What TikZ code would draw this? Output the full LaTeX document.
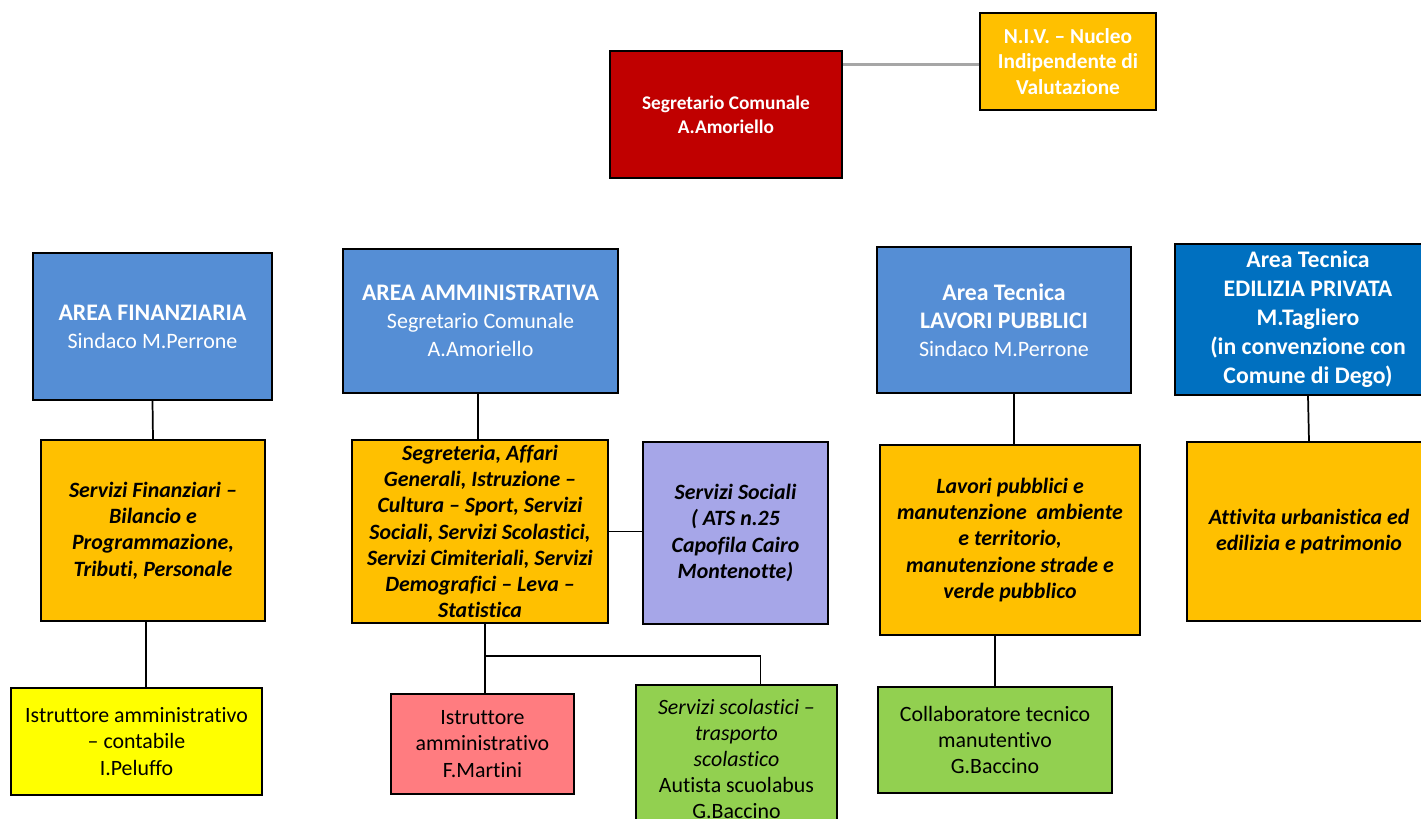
\documentclass[tikz,border=0pt]{standalone}
\usepackage{fontspec}
\setmainfont[Ligatures=CommonOff]{Carlito}
\definecolor{segrred}{HTML}{C00000}
\definecolor{areaorange}{HTML}{FFC000}
\definecolor{areablue}{HTML}{558ED5}
\definecolor{edilblue}{HTML}{0070C0}
\definecolor{socialililac}{HTML}{A6A6E8}
\definecolor{istryellow}{HTML}{FFFF00}
\definecolor{istrpink}{HTML}{FF7C80}
\definecolor{scolgreen}{HTML}{92D050}
\definecolor{nivgray}{HTML}{A6A6A6}
\newcommand{\areatitle}[1]{{\bfseries\fontsize{17.8}{21}\selectfont #1}}

\begin{document}
\begin{tikzpicture}[x=0.75pt,y=0.75pt,yscale=-1,xscale=1,
    box/.style={draw=black, line width=1.1pt, rectangle, align=center, inner sep=2pt},
    size/.style 2 args={minimum width=#1*0.75pt, minimum height=#2*0.75pt},
    head/.style={box, text=white, font=\fontsize{16.5}{21}\selectfont},
    duty/.style={box, fill=areaorange, font=\bfseries\itshape\fontsize{16.4}{19.7}\selectfont},
    staff/.style={box, font=\fontsize{16.4}{19.6}\selectfont},
    link/.style={draw=black, line width=1.3pt}]
    \useasboundingbox (0,0) rectangle (1421,818);
    \clip (0,0) rectangle (1421,818);
    % top
    \node [box, size={232}{127}, fill=segrred, text=white, font=\bfseries\fontsize{14.5}{18}\selectfont] (segr) at (726,114.5) {Segretario Comunale\\A.Amoriello};
    \node [box, size={176}{97}, fill=areaorange, text=white, font=\bfseries\fontsize{16}{19}\selectfont] (niv) at (1068,61.5) {N.I.V. -- Nucleo\\Indipendente di\\Valutazione};
    \draw [draw=nivgray, line width=2.2pt] ([yshift=2pt]niv.west) -- ([yshift=2pt]niv.west -| segr.east);
    % areas
    \node [head, size={239}{147}, fill=areablue] (finanz) at (152.5,326.5) {\areatitle{AREA FINANZIARIA}\\Sindaco M.Perrone};
    \node [head, size={275}{144}, fill=areablue] (ammin) at (480.5,321) {\areatitle{AREA AMMINISTRATIVA}\\Segretario Comunale\\A.Amoriello};
    \node [head, size={254}{146}, fill=areablue] (lavori) at (1004,320) {\areatitle{Area Tecnica}\\\areatitle{LAVORI PUBBLICI}\\Sindaco M.Perrone};
    \node [head, size={266}{151}, fill=edilblue, font=\bfseries\fontsize{17.8}{21.8}\selectfont] (edil) at (1308,319.5) {Area Tecnica\\EDILIZIA PRIVATA\\M.Tagliero\\(in convenzione con\\Comune di Dego)};
    % services
    \node [duty, size={224}{181}] (servfin) at (153,530.5) {Servizi Finanziari --\\Bilancio e\\Programmazione,\\Tributi, Personale};
    \node [duty, size={256}{183}] (ammsub) at (480,531.5) {Segreteria, Affari\\Generali, Istruzione --\\Cultura -- Sport, Servizi\\Sociali, Servizi Scolastici,\\Servizi Cimiteriali, Servizi\\Demografici -- Leva --\\Statistica};
    \node [duty, size={185}{182}, fill=socialililac] (sociali) at (735.5,533) {Servizi Sociali\\( ATS n.25\\Capofila Cairo\\Montenotte)};
    \node [duty, size={260}{190}] (lavsub) at (1010,540) {Lavori pubblici e\\manutenzione~ ambiente\\e territorio,\\manutenzione strade e\\verde pubblico};
    \node [duty, size={244}{179}] (edilsub) at (1309,531.5) {Attivita urbanistica ed\\edilizia e patrimonio};
    % staff
    \node [staff, size={251}{107}, fill=istryellow] (istr1) at (136.5,741.5) {Istruttore amministrativo\\-- contabile\\I.Peluffo};
    \node [staff, size={183}{100}, fill=istrpink] (istr2) at (482.5,744) {Istruttore\\amministrativo\\F.Martini};
    \node [staff, size={201}{148}, fill=scolgreen] (scol) at (736.5,759) {\itshape Servizi scolastici --\\\itshape trasporto\\\itshape scolastico\\Autista scuolabus\\G.Baccino};
    \node [staff, size={234}{106}, fill=scolgreen] (collab) at (995,740) {Collaboratore tecnico\\manutentivo\\G.Baccino};
    % links
    \draw [link] (finanz.south) -- (servfin.north);
    \draw [link] ([xshift=-5pt]servfin.south) -- ([xshift=-5pt]servfin.south |- istr1.north);
    \draw [link] ([xshift=-2pt]ammin.south) -- ([xshift=-2pt]ammin.south |- ammsub.north);
    \draw [link] (ammsub.east) -- (ammsub.east -| sociali.west);
    \draw [link] ([xshift=4pt]ammsub.south) -- ([xshift=4pt]ammsub.south |- istr2.north);
    \draw [link] ([xshift=4pt,yshift=24pt]ammsub.south) -| ([xshift=18pt]scol.north);
    \draw [link] ([xshift=7.5pt]lavori.south) -- ([xshift=7.5pt]lavori.south |- lavsub.north);
    \draw [link] (collab.north) -- (collab.north |- lavsub.south);
    \draw [link] (edil.south) -- (edilsub.north);
\end{tikzpicture}
\end{document}
